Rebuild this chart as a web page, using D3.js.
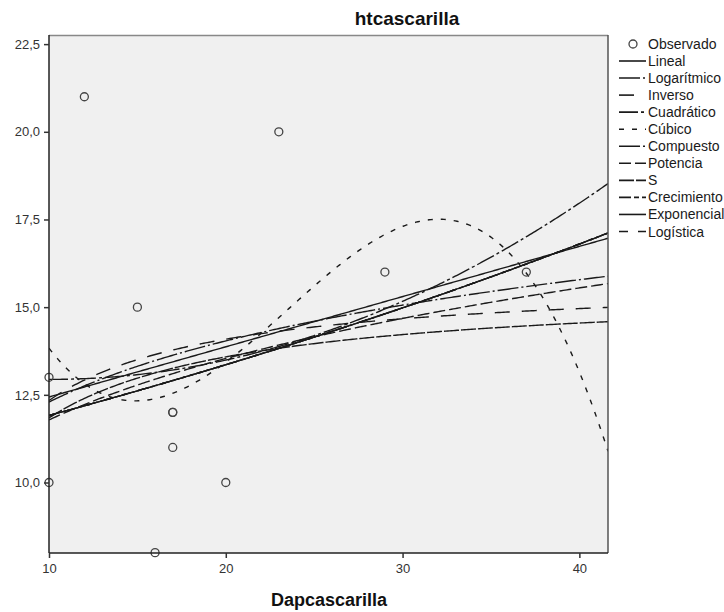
<!DOCTYPE html>
<html>
<head>
<meta charset="utf-8">
<script src="https://cdn.jsdelivr.net/npm/d3@7/dist/d3.min.js"></script>
<style>
  body { margin: 0; background: #fff; }
  svg { display: block; font-family: "Liberation Sans", Arial, sans-serif; }
</style>
</head>
<body>
<svg id="chart" width="724" height="612"></svg>
<script>
// ---- Data ----
const obsX = [10, 10, 12, 15, 16, 17, 17, 17, 20, 23, 29, 37];
const obsY = [13, 10, 21, 15, 8, 12, 12, 11, 10, 20, 16, 16];
const xTicks = [10, 20, 30, 40];
const yTicks = [10, 12.5, 15, 17.5, 20, 22.5];
const modelNames = ["Lineal", "Logarítmico", "Inverso", "Cuadrático", "Cúbico",
  "Compuesto", "Potencia", "S", "Crecimiento", "Exponencial", "Logística"];
const modelKeys = ["linear", "log", "inverse", "quad", "cubic",
  "compound", "power", "s", "growth", "exponential", "logistic"];
const title = "htcascarilla";
const xLabel = "Dapcascarilla";

// ---- styles ----
const dashes = {
  linear: null, log: "21,3,2,3", inverse: "15,12", quad: "19,3,3,3", cubic: "5,8",
  compound: "21,3,2,3", power: "12,4", s: "15,2", growth: "12,3,5,3",
  exponential: null, logistic: "9,10"
};

// ---- least squares ----
function solve(A, b) {
  const n = b.length;
  const M = A.map((r, i) => r.concat([b[i]]));
  for (let c = 0; c < n; c++) {
    let p = c;
    for (let r = c + 1; r < n; r++) if (Math.abs(M[r][c]) > Math.abs(M[p][c])) p = r;
    [M[c], M[p]] = [M[p], M[c]];
    for (let r = 0; r < n; r++) {
      if (r === c) continue;
      const f = M[r][c] / M[c][c];
      for (let k = c; k <= n; k++) M[r][k] -= f * M[c][k];
    }
  }
  return M.map((r, i) => r[n] / r[i]);
}
function polyfit(xs, ys, deg) {
  const m = deg + 1;
  const A = Array.from({length: m}, () => new Array(m).fill(0));
  const b = new Array(m).fill(0);
  xs.forEach((x, i) => {
    for (let r = 0; r < m; r++) {
      b[r] += ys[i] * Math.pow(x, r);
      for (let c = 0; c < m; c++) A[r][c] += Math.pow(x, r + c);
    }
  });
  return solve(A, b);
}
const lin = (u, v) => polyfit(u, v, 1);
const lnY = obsY.map(Math.log);
const lnX = obsX.map(Math.log);
const invX = obsX.map(x => 1 / x);
const c1 = polyfit(obsX, obsY, 1), c2 = polyfit(obsX, obsY, 2), c3 = polyfit(obsX, obsY, 3);
const cl = lin(lnX, obsY), ci = lin(invX, obsY);
const ce = lin(obsX, lnY), cp = lin(lnX, lnY), cs = lin(invX, lnY);
const clg = lin(obsX, obsY.map(y => Math.log(1 / y)));
const models = {
  linear: x => c1[0] + c1[1] * x,
  log: x => cl[0] + cl[1] * Math.log(x),
  inverse: x => ci[0] + ci[1] / x,
  quad: x => c2[0] + c2[1] * x + c2[2] * x * x,
  cubic: x => c3[0] + c3[1] * x + c3[2] * x * x + c3[3] * x * x * x,
  compound: x => Math.exp(ce[0] + ce[1] * x),
  power: x => Math.exp(cp[0] + cp[1] * Math.log(x)),
  s: x => Math.exp(cs[0] + cs[1] / x),
  growth: x => Math.exp(ce[0] + ce[1] * x),
  exponential: x => Math.exp(ce[0] + ce[1] * x),
  logistic: x => 1 / Math.exp(clg[0] + clg[1] * x)
};

// ---- layout ----
const svg = d3.select("#chart");
const L = 49, R = 608, T = 35, B = 553;
const x = d3.scaleLinear().domain([10, 41.62]).range([L, R]);
const y = d3.scaleLinear().domain([7.99, 22.76]).range([B, T]);

svg.append("rect").attr("x", L).attr("y", T).attr("width", R - L).attr("height", B - T)
  .attr("fill", "#f0f0f0");

const clip = svg.append("clipPath").attr("id", "clip");
clip.append("rect").attr("x", L).attr("y", T).attr("width", R - L).attr("height", B - T);

// curves
const g = svg.append("g").attr("clip-path", "url(#clip)");
const xs = d3.range(0, 301).map(i => 10 + (41.62 - 10) * i / 300);
const line = d3.line().x(d => x(d[0])).y(d => y(d[1]));
modelKeys.forEach(k => {
  g.append("path")
    .attr("d", line(xs.map(v => [v, models[k](v)])))
    .attr("fill", "none").attr("stroke", "#1a1a1a").attr("stroke-width", 1.4)
    .attr("stroke-dasharray", dashes[k]);
});

// points
svg.append("g").selectAll("circle").data(obsX.map((v, i) => [v, obsY[i]])).join("circle")
  .attr("cx", d => x(d[0])).attr("cy", d => y(d[1])).attr("r", 4)
  .attr("fill", "none").attr("stroke", "#444").attr("stroke-width", 1.3);

// frame
svg.append("line").attr("x1", L).attr("x2", R).attr("y1", T + 0.5).attr("y2", T + 0.5)
  .attr("stroke", "#888").attr("stroke-width", 1.5);
svg.append("line").attr("x1", R).attr("x2", R).attr("y1", T).attr("y2", B)
  .attr("stroke", "#555").attr("stroke-width", 1.5);

// axes
const xAxis = d3.axisBottom(x).tickValues(xTicks).tickSize(5).tickPadding(6)
  .tickFormat(d3.format("d"));
const yAxis = d3.axisLeft(y).tickValues(yTicks).tickSize(5).tickPadding(4)
  .tickFormat(d => d3.format(".1f")(d).replace(".", ","));
const gx = svg.append("g").attr("transform", `translate(0,${B})`).call(xAxis);
const gy = svg.append("g").attr("transform", `translate(${L},0)`).call(yAxis);
[gx, gy].forEach(a => {
  a.select(".domain").attr("stroke", "#222").attr("stroke-width", 1.5);
  a.selectAll(".tick line").attr("stroke", "#333").attr("stroke-width", 1.5);
  a.selectAll(".tick text").attr("fill", "#333").attr("font-size", 13)
    .attr("font-family", "Liberation Sans, Arial, sans-serif");
});
gx.select(".domain").attr("d", `M${L},0H${R}`);
gy.select(".domain").attr("d", `M0,${B}V${T}`);

// titles
svg.append("text").attr("x", 407).attr("y", 25).attr("text-anchor", "middle")
  .attr("font-size", 19).attr("font-weight", "bold").attr("fill", "#111").text(title);
svg.append("text").attr("x", 329).attr("y", 606).attr("text-anchor", "middle")
  .attr("font-size", 18).attr("font-weight", "bold").attr("fill", "#111").text(xLabel);

// legend
const lg = svg.append("g").attr("font-size", 14).attr("fill", "#1a1a1a");
lg.append("circle").attr("cx", 633).attr("cy", 44).attr("r", 4)
  .attr("fill", "none").attr("stroke", "#444").attr("stroke-width", 1.3);
lg.append("text").attr("x", 648).attr("y", 49).text("Observado");
modelKeys.forEach((k, i) => {
  const yy = 61 + i * 17.05;
  lg.append("line").attr("x1", 619).attr("x2", 646).attr("y1", yy).attr("y2", yy)
    .attr("stroke", "#1a1a1a").attr("stroke-width", 1.6)
    .attr("stroke-dasharray", dashes[k]);
  lg.append("text").attr("x", 648).attr("y", yy + 5).text(modelNames[i]);
});
</script>
</body>
</html>
